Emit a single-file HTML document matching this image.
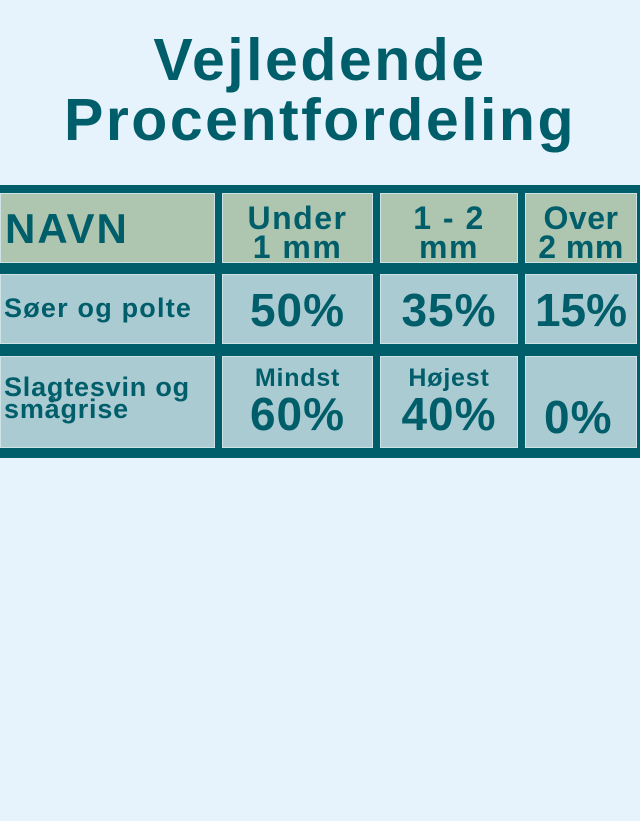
<!DOCTYPE html>
<html><head><meta charset="utf-8"><style>
body{margin:0;width:640px;height:821px;background:#e6f3fc;font-family:"Liberation Sans","DejaVu Sans",sans-serif;color:#005e6a;position:relative;overflow:hidden}
.t{position:absolute;left:0;width:640px;text-align:center;font-weight:bold;font-size:59px;line-height:60px;letter-spacing:2.5px}
.band{position:absolute;left:0;width:640px;background:#005e6a}
.c{position:absolute;box-sizing:border-box;border:1px solid #cfe3e6;background:#abcbd3;font-weight:bold;text-align:center}
.h{background:#aec6b0}
.big{font-size:46px;letter-spacing:1px}
.sm{font-size:25px;letter-spacing:0.8px}
.hd{font-size:32px;line-height:29px;padding-top:10px;letter-spacing:1.5px}
</style></head><body>
<div class="t" style="top:30px">Vejledende</div>
<div class="t" style="top:90px">Procentfordeling</div>
<div class="band" style="top:185px;height:273px"></div>

<div class="c h" style="left:0;top:193px;width:215px;height:70px;text-align:left;font-size:42px;line-height:70px;padding-left:4px;letter-spacing:2px">NAVN</div>
<div class="c h hd" style="left:222px;top:193px;width:151px;height:70px">Under<br>1 mm</div>
<div class="c h hd" style="left:380px;top:193px;width:138px;height:70px">1 - 2<br>mm</div>
<div class="c h hd" style="left:525px;top:193px;width:112px;height:70px;letter-spacing:0.5px">Over<br>2 mm</div>

<div class="c" style="left:0;top:274px;width:215px;height:70px;text-align:left;font-size:27px;line-height:66px;padding-left:3px;letter-spacing:1.2px">Søer og polte</div>
<div class="c big" style="left:222px;top:274px;width:151px;height:70px;line-height:70px">50%</div>
<div class="c big" style="left:380px;top:274px;width:138px;height:70px;line-height:70px">35%</div>
<div class="c big" style="left:525px;top:274px;width:112px;height:70px;line-height:70px;letter-spacing:0">15%</div>

<div class="c" style="left:0;top:356px;width:215px;height:92px;text-align:left;font-size:27px;line-height:22px;padding:19px 0 0 3px;letter-spacing:0.8px">Slagtesvin og<br>smågrise</div>
<div class="c" style="left:222px;top:356px;width:151px;height:92px"><div class="sm" style="margin-top:8px;line-height:26px">Mindst</div><div class="big" style="line-height:46px">60%</div></div>
<div class="c" style="left:380px;top:356px;width:138px;height:92px"><div class="sm" style="margin-top:8px;line-height:26px">Højest</div><div class="big" style="line-height:46px">40%</div></div>
<div class="c big" style="left:525px;top:356px;width:112px;height:92px;line-height:44px;padding-top:38px;text-align:left;padding-left:18px">0%</div>
</body></html>
